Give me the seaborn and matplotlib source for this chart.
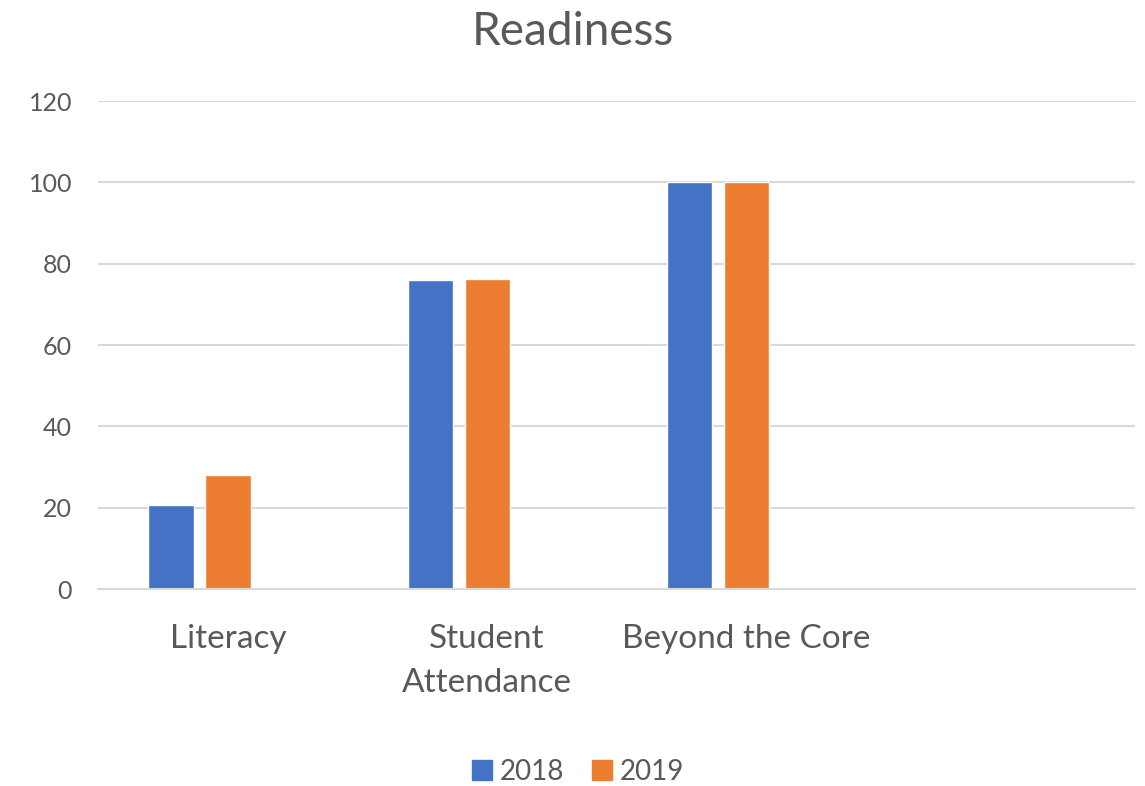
import pandas as pd
import matplotlib.pyplot as plt
import seaborn as sns
from matplotlib.patches import Patch

categories = ["Literacy", "Student\nAttendance", "Beyond the Core", " "]
years = ["2018", "2019", "2020"]
values_2018 = [20.6, 76.0, 100.0]
values_2019 = [28.1, 76.3, 100.0]

rows = []
for cat, v in zip(categories, values_2018):
    rows.append({"Category": cat, "Year": "2018", "Value": v})
for cat, v in zip(categories, values_2019):
    rows.append({"Category": cat, "Year": "2019", "Value": v})
data = pd.DataFrame(rows)

sns.set_style("white")
plt.rcParams["font.family"] = ["Lato", "DejaVu Sans"]
text_color = "#595959"
grid_color = "#d9d9d9"
colors = {"2018": "#4472C4", "2019": "#ED7D31", "2020": "#A5A5A5"}

fig = plt.figure(figsize=(11.45, 7.86), dpi=100)
ax = fig.add_axes([0.0860, 0.2506, 0.9050, 0.6209])

sns.barplot(data=data, x="Category", y="Value", hue="Year",
            order=categories, hue_order=years, palette=colors,
            width=0.66, gap=0.21, saturation=1, legend=False, ax=ax)

ax.set_xlim(-0.5, 3.5)
ax.set_ylim(0, 120)
ax.set_yticks(range(0, 121, 20))
ax.yaxis.grid(True, color=grid_color, linewidth=1.5)
ax.set_axisbelow(True)
for side in ["left", "right", "top"]:
    ax.spines[side].set_visible(False)
ax.spines["bottom"].set_color(grid_color)
ax.spines["bottom"].set_linewidth(1.5)
ax.tick_params(axis="y", length=0, pad=19, labelsize=18, labelcolor=text_color)
ax.tick_params(axis="x", length=0, pad=25, labelsize=24, labelcolor=text_color)
for lbl in ax.get_xticklabels():
    lbl.set_linespacing(1.6)
ax.set_xlabel("")
ax.set_ylabel("")

fig.suptitle("Readiness", y=0.986, va="top", fontsize=33, color=text_color)

handles = [Patch(color=colors["2018"], label="2018"),
           Patch(color=colors["2019"], label="2019")]
fig.legend(handles=handles, loc="center", bbox_to_anchor=(0.505, 0.018),
           ncol=2, frameon=False, fontsize=20, labelcolor=text_color,
           handlelength=0.7, handleheight=0.7, handletextpad=0.3,
           columnspacing=1.0)

fig.savefig("out.png", dpi=100)
plt.close(fig)
